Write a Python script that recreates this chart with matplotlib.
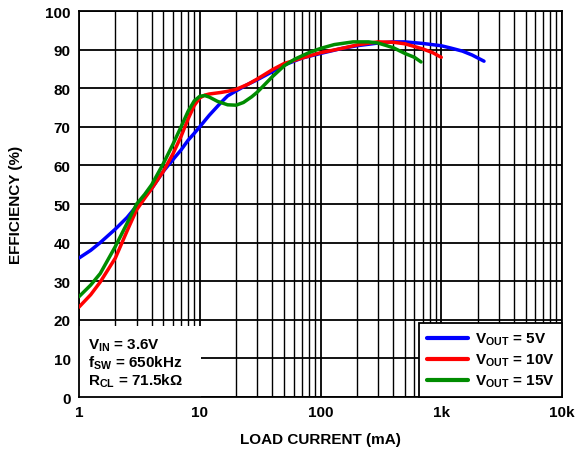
import matplotlib.pyplot as plt
from matplotlib.patches import Rectangle
from matplotlib.ticker import FixedLocator, NullFormatter

plt.rcParams['font.family'] = ['Liberation Sans', 'DejaVu Sans']
plt.rcParams['font.weight'] = 'bold'
plt.rcParams['mathtext.fontset'] = 'custom'
plt.rcParams['mathtext.rm'] = 'Liberation Sans:bold'
plt.rcParams['mathtext.bf'] = 'Liberation Sans:bold'
plt.rcParams['mathtext.it'] = 'Liberation Sans:bold'
plt.rcParams['mathtext.default'] = 'bf'

# Data
x_5v = [1, 1.25, 1.5, 2, 2.5, 3, 4, 5, 6, 7, 8, 9, 10, 12, 15, 17, 20, 25,
        30, 40, 50, 70, 100, 150, 200, 300, 400, 500, 700, 1000, 1200, 1500,
        1800, 2260]
eff_5v = [36, 38, 40, 43.5, 46.5, 49.5, 54, 58.5, 61.5, 64, 66.5, 68.3, 70,
          73, 76.3, 78, 79.3, 81, 82.2, 84.3, 86, 87.8, 89, 90.3, 91, 91.7,
          92, 92, 91.6, 91, 90.4, 89.6, 88.6, 87]

x_10v = [1, 1.25, 1.5, 2, 2.5, 3, 3.5, 4, 5, 6, 7, 8, 9, 10, 11, 12, 15, 17,
         20, 25, 30, 40, 50, 70, 100, 150, 200, 300, 400, 500, 700, 850, 1000]
eff_10v = [23.3, 26.5, 29.8, 36, 43, 48.5, 51.5, 54, 58.5, 63, 67.5, 72,
           75.5, 77.5, 78.2, 78.5, 78.9, 79.2, 79.7, 81, 82.4, 84.8, 86.4,
           87.8, 89.2, 90.3, 91.2, 92, 91.9, 91.5, 90.2, 89.2, 88]

x_15v = [1, 1.25, 1.5, 2, 2.5, 3, 3.5, 4, 5, 6, 7, 8, 9, 10, 11, 12, 14, 17,
         20, 23, 27, 30, 40, 50, 61, 80, 100, 130, 186, 250, 300, 400, 500,
         600, 680]
eff_15v = [26, 29, 32, 39, 45, 50, 52.5, 55, 60.5, 65.5, 70, 74, 76.7, 77.9,
           78.1, 77.7, 76.6, 75.7, 75.6, 76.3, 77.8, 79, 83, 85.8, 87.5, 89.2,
           90.3, 91.3, 92, 92, 91.7, 90.5, 89, 88, 86.8]

series = [
    (x_5v, eff_5v, '#0000ff', r'V$_{OUT}$ = 5V'),
    (x_10v, eff_10v, '#ff0000', r'V$_{OUT}$ = 10V'),
    (x_15v, eff_15v, '#008c00', r'V$_{OUT}$ = 15V'),
]

x_ticks = [1, 10, 100, 1000, 10000]
x_tick_labels = ['1', '10', '100', '1k', '10k']
y_ticks = list(range(0, 101, 10))


def main():
    fig = plt.figure(figsize=(5.76, 4.56), dpi=100)
    ax = fig.add_axes([79 / 576, 1 - 398 / 456, 483 / 576, 386 / 456])

    for xs, ys, color, label in series:
        ax.plot(xs, ys, color=color, lw=2.5, label=label, zorder=3,
                solid_capstyle='round', solid_joinstyle='round')

    ax.set_xscale('log')
    ax.set_xlim(1, 10000)
    ax.set_ylim(0, 100)
    ax.set_xticks(x_ticks)
    ax.set_xticklabels(x_tick_labels)
    minors = [m * 10 ** d for d in range(4) for m in range(2, 10)]
    ax.xaxis.set_minor_locator(FixedLocator(minors))
    ax.xaxis.set_minor_formatter(NullFormatter())
    ax.set_yticks(y_ticks)

    ax.set_axisbelow(True)
    ax.grid(True, which='major', color='black', lw=1.3)
    ax.grid(True, which='minor', axis='x', color='black', lw=1.0)
    ax.tick_params(which='both', length=0, labelsize=11, pad=6)
    for sp in ax.spines.values():
        sp.set_linewidth(1.3)

    ax.set_xlabel('LOAD CURRENT (mA)', fontsize=11, fontweight='bold',
                  labelpad=9)
    ax.set_ylabel('EFFICIENCY (%)', fontsize=11, fontweight='bold',
                  labelpad=16)

    # White panel holding the test conditions
    ax.add_patch(Rectangle((0, 0), 0.253, 0.184, transform=ax.transAxes,
                           facecolor='white', edgecolor='none', zorder=1.5))
    ax.text(0.018, 0.157,
            'V$_{IN}$ = 3.6V\nf$_{SW}$ = 650kHz\nR$_{CL}$ = 71.5k\u03a9',
            transform=ax.transAxes, fontsize=11, fontweight='bold',
            va='top', ha='left', linespacing=1.05, zorder=4)

    leg = ax.legend(loc='lower right', borderaxespad=0, fontsize=11,
                    fancybox=False, framealpha=1, edgecolor='black',
                    handlelength=2.7, handletextpad=0.45, labelspacing=0.3,
                    borderpad=0.5)
    leg.get_frame().set_linewidth(1.3)
    for line in leg.get_lines():
        line.set_linewidth(3)

    fig.savefig('out.png', dpi=100)


if __name__ == '__main__':
    main()
